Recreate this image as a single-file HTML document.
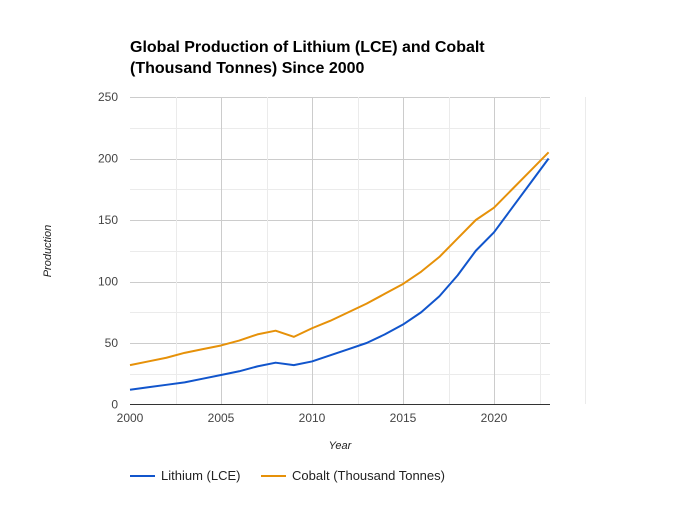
<!DOCTYPE html>
<html><head><meta charset="utf-8"><style>
body{margin:0;background:#fff;}
svg text{font-family:"Liberation Sans",Arial,sans-serif;}
</style></head><body>
<svg width="680" height="500" xmlns="http://www.w3.org/2000/svg">
<g>
<text x="130" y="52" font-size="16" font-weight="bold" fill="#000">Global Production of Lithium (LCE) and Cobalt</text>
<text x="130" y="73" font-size="16" font-weight="bold" fill="#000">(Thousand Tonnes) Since 2000</text>
</g>
<g id="grid"></g>
<g id="yticks"></g>
<g id="xticks"></g>
<g id="lines"></g>
<text x="340" y="449" font-size="11" font-style="italic" text-anchor="middle" fill="#222">Year</text>
<text transform="translate(51,251) rotate(-90)" font-size="11" font-style="italic" text-anchor="middle" fill="#222">Production</text>
<g>
<g>
<line x1="130" y1="476" x2="155" y2="476" stroke="#1155cc" stroke-width="2"/>
<text x="161" y="480" font-size="13" fill="#222">Lithium (LCE)</text></g>
<g>
<line x1="261" y1="476" x2="286" y2="476" stroke="#e69109" stroke-width="2"/>
<text x="292" y="480" font-size="13" fill="#222">Cobalt (Thousand Tonnes)</text></g>
</g>
</svg>
<script>
const years=[2000,2001,2002,2003,2004,2005,2006,2007,2008,2009,2010,2011,2012,2013,2014,2015,2016,2017,2018,2019,2020,2021,2022,2023];
const lithium=[12,14,16,18,21,24,27,31,34,32,35,40,45,50,57,65,75,88,105,125,140,160,180,200];
const cobalt=[32,35,38,42,45,48,52,57,60,55,62,68,75,82,90,98,108,120,135,150,160,175,190,205];
const yTicks=[0,50,100,150,200,250];
const xTicks=[2000,2005,2010,2015,2020];
const NS="http://www.w3.org/2000/svg";
const x=v=>130+(v-2000)*18.2;
const y=v=>404.5-v*1.23;
const px=v=>Math.round(v)+0.5;
function mk(tag,attrs,parent){const e=document.createElementNS(NS,tag);for(const k in attrs)e.setAttribute(k,attrs[k]);parent.appendChild(e);return e;}
const grid=document.getElementById('grid');
for(let v=25;v<=250;v+=25){const l=mk('line',{x1:130,x2:550,y1:px(y(v)),y2:px(y(v)),stroke:v%50?'#ebebeb':'#cccccc','stroke-width':1},grid);

}
for(let v=2002.5;v<=2025;v+=2.5){const major=(v%5===0)&&v<2025;const l=mk('line',{x1:px(x(v)),x2:px(x(v)),y1:97,y2:404,stroke:major?'#cccccc':'#ebebeb','stroke-width':1},grid);

}
const base=mk('line',{x1:130,x2:550,y1:404.5,y2:404.5,stroke:'#333','stroke-width':1},grid);


const yt=document.getElementById('yticks');
yTicks.forEach(v=>{const t=mk('text',{x:118,y:y(v)+4,'font-size':12,'text-anchor':'end',fill:'#444'},yt);t.textContent=v;

});
const xt=document.getElementById('xticks');
xTicks.forEach(v=>{const t=mk('text',{x:x(v),y:422,'font-size':12,'text-anchor':'middle',fill:'#444'},xt);t.textContent=v;

});
const lg=document.getElementById('lines');
[[cobalt,'#e69109','cobalt-line'],[lithium,'#1155cc','lithium-line']].forEach(([d,c,n])=>{
const p=mk('polyline',{points:d.map((v,i)=>x(years[i])+','+y(v)).join(' '),fill:'none',stroke:c,'stroke-width':2,'stroke-linejoin':'round'},lg);

});
</script>
</body></html>
